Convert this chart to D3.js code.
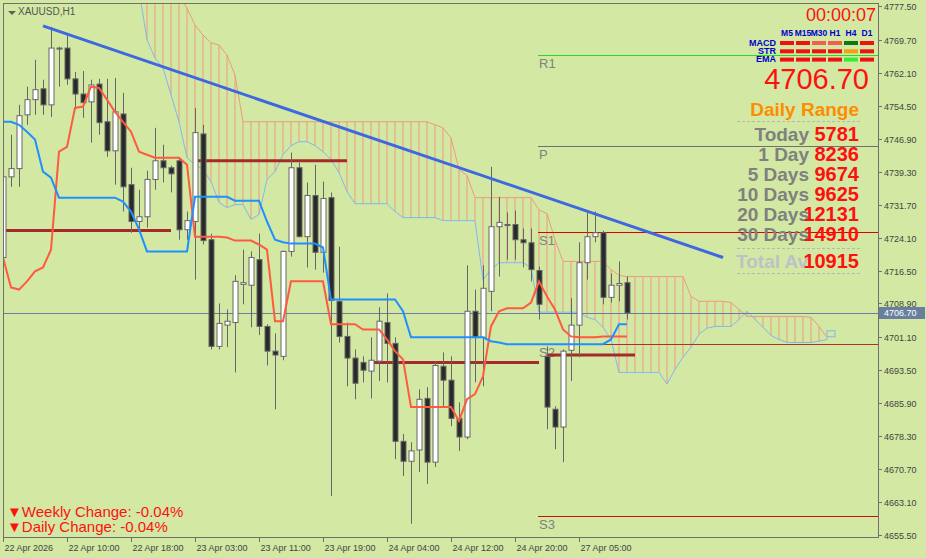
<!DOCTYPE html>
<html><head><meta charset="utf-8">
<script src="https://cdn.jsdelivr.net/npm/d3@7"></script>
<style>body{margin:0;background:#d2e8a3;}svg{display:block;}</style>
</head><body><svg id="c" width="926" height="558"></svg>
<script>
const opens  = [4719.5,4738.1,4740.0,4752.4,4755.9,4758.4,4754.7,4767.8,4767.8,4760.7,4757.2,4755.4,4759.5,4750.8,4744.1,4752.6,4736.3,4727.8,4728.9,4737.5,4741.8,4740.2,4741.8,4725.9,4727.8,4748.0,4723.6,4699.0,4703.9,4704.5,4713.3,4713.1,4719.0,4703.6,4697.9,4696.7,4720.9,4740.2,4724.3,4733.8,4720.7,4733.3,4709.4,4701.3,4696.3,4695.3,4693.3,4695.6,4704.5,4699.7,4677.1,4672.5,4675.1,4687.0,4672.3,4694.4,4691.2,4682.4,4678.1,4707.1,4701.1,4711.7,4726.6,4727.1,4727.1,4723.6,4722.9,4716.5,4696.7,4684.5,4680.4,4698.1,4703.9,4718.3,4724.3,4725.2,4710.3,4713.1,4713.7];
const highs  = [4740.9,4747.8,4754.7,4758.9,4765.1,4760.5,4772.7,4768.1,4771.3,4762.3,4762.5,4760.5,4760.7,4760.7,4760.9,4757.5,4740.2,4735.1,4739.5,4749.4,4745.5,4740.7,4742.7,4730.1,4754.0,4750.1,4725.0,4708.9,4707.5,4715.4,4721.3,4720.9,4725.0,4704.1,4702.0,4721.1,4743.7,4741.4,4736.8,4740.9,4737.0,4734.5,4722.0,4704.5,4698.3,4696.7,4701.1,4708.0,4711.2,4701.1,4678.8,4676.9,4689.1,4689.6,4695.6,4697.6,4696.7,4686.1,4717.7,4712.1,4717.7,4740.4,4733.5,4729.9,4730.3,4726.2,4726.2,4717.4,4699.0,4685.2,4698.3,4710.1,4723.0,4729.9,4730.1,4725.7,4715.8,4718.6,4715.1];
const lows   = [4717.9,4735.8,4735.8,4750.1,4752.4,4752.4,4751.9,4758.9,4759.3,4753.6,4751.7,4746.0,4747.8,4742.7,4736.3,4730.1,4725.2,4725.2,4726.4,4735.1,4736.8,4734.5,4723.6,4723.6,4714.4,4722.5,4698.3,4698.3,4698.8,4693.0,4708.7,4703.4,4701.6,4694.6,4684.5,4695.8,4719.7,4724.1,4717.2,4716.7,4716.0,4664.5,4699.9,4689.8,4686.8,4690.7,4687.0,4691.0,4690.7,4673.0,4669.1,4658.1,4670.0,4667.3,4671.2,4685.2,4680.6,4674.9,4677.6,4690.7,4689.8,4707.1,4715.1,4719.0,4719.0,4717.2,4714.0,4705.2,4679.9,4675.3,4672.3,4691.0,4696.5,4714.4,4723.0,4708.7,4709.1,4709.4,4705.2];
const closes = [4738.1,4740.0,4752.2,4755.9,4758.2,4754.7,4767.8,4767.6,4760.7,4757.2,4755.2,4759.3,4750.6,4744.1,4753.1,4735.8,4727.8,4728.9,4737.5,4741.8,4740.2,4738.8,4725.9,4728.0,4748.3,4723.4,4699.0,4704.3,4704.8,4714.0,4713.7,4719.5,4703.6,4697.9,4697.0,4720.9,4740.2,4724.3,4733.8,4720.7,4733.1,4709.6,4701.3,4696.3,4690.5,4693.5,4695.8,4704.8,4699.7,4677.1,4672.5,4674.9,4686.8,4672.3,4694.6,4691.2,4682.4,4678.1,4707.1,4701.1,4712.4,4726.6,4727.6,4727.0,4723.6,4722.9,4716.7,4708.7,4685.0,4680.4,4697.9,4703.9,4718.3,4724.3,4725.2,4710.3,4713.1,4713.5,4706.7];
const tenkan = [4719.5,4712.6,4712.1,4714.0,4716.3,4717.2,4721.3,4743.9,4745.0,4754.0,4754.3,4758.9,4758.6,4755.9,4753.1,4750.8,4748.5,4743.9,4743.2,4742.5,4742.5,4742.5,4742.5,4740.9,4724.3,4724.3,4724.3,4724.3,4724.1,4723.4,4723.4,4723.4,4722.5,4721.3,4704.8,4704.8,4714.0,4714.0,4714.0,4714.0,4714.0,4704.1,4704.1,4704.1,4704.1,4702.9,4702.9,4702.9,4700.6,4697.9,4696.0,4685.0,4685.0,4685.0,4685.0,4685.0,4685.0,4681.8,4686.8,4688.0,4692.1,4703.6,4707.1,4707.8,4707.8,4707.8,4709.1,4714.0,4710.5,4707.5,4702.9,4701.3,4701.1,4701.1,4701.1,4701.3,4701.3,4701.3,4701.3];
const kijun  = [4750.8,4750.8,4750.1,4748.5,4746.7,4739.3,4737.9,4733.3,4733.3,4733.3,4733.3,4733.3,4733.3,4733.3,4733.3,4732.4,4730.1,4726.0,4720.9,4720.9,4720.9,4720.9,4720.9,4720.9,4733.5,4733.5,4733.5,4733.5,4733.5,4732.6,4732.6,4732.6,4732.6,4727.8,4723.6,4723.0,4722.7,4722.7,4722.7,4722.7,4721.8,4709.8,4709.8,4709.8,4709.8,4709.8,4709.8,4709.8,4709.8,4709.8,4707.1,4701.1,4701.1,4701.1,4701.1,4701.1,4701.1,4701.1,4701.1,4701.1,4701.1,4700.2,4699.9,4699.5,4699.5,4699.5,4699.5,4699.5,4699.5,4699.5,4699.5,4699.5,4699.5,4699.5,4699.5,4699.5,4700.6,4704.1,4704.1];
const spanStart = 17;
const spanA  = [4788.1,4785.8,4784.6,4783.5,4782.3,4780.0,4777.0,4773.1,4770.8,4769.0,4768.5,4766.2,4761.6,4750.8,4750.8,4750.8,4750.8,4750.8,4750.8,4750.8,4750.8,4750.8,4750.8,4750.8,4750.8,4750.8,4750.8,4750.8,4750.8,4750.8,4750.8,4750.8,4750.8,4750.8,4750.8,4750.8,4750.8,4750.1,4749.4,4747.1,4739.8,4738.4,4733.3,4733.3,4733.3,4733.3,4733.3,4733.3,4733.3,4733.3,4730.5,4729.6,4723.6,4718.6,4718.6,4718.6,4718.6,4718.6,4718.6,4716.7,4715.4,4715.1,4715.1,4715.1,4715.1,4715.1,4715.1,4715.1,4715.1,4710.5,4709.4,4709.4,4709.4,4709.4,4709.1,4707.5,4705.9,4705.9,4705.9,4705.9,4705.9,4705.9,4705.9,4705.9,4705.7,4703.6,4701.1];
const spanB  = [4781.2,4769.7,4765.5,4763.2,4757.0,4750.8,4742.5,4740.9,4739.8,4737.0,4732.2,4731.0,4731.7,4731.7,4728.3,4729.4,4737.5,4739.3,4743.2,4745.3,4746.2,4746.2,4745.3,4743.9,4742.1,4739.1,4734.7,4731.9,4731.9,4731.9,4731.9,4731.9,4730.1,4728.7,4728.7,4728.7,4728.7,4728.7,4728.0,4728.0,4728.0,4728.0,4728.0,4714.4,4716.7,4718.3,4718.3,4718.3,4718.3,4717.2,4706.9,4706.9,4706.9,4706.9,4706.9,4706.9,4705.7,4705.2,4703.4,4700.6,4693.0,4693.0,4693.0,4693.0,4693.0,4693.0,4690.3,4693.7,4696.5,4698.8,4701.8,4703.2,4703.6,4703.6,4703.6,4705.2,4707.1,4705.2,4703.4,4701.5,4700.6,4699.9,4699.9,4699.9,4699.9,4700.2,4700.6];
const pivots = [{n:"R1",v:4766.2,c:"#22dd22"},{n:"P",v:4745.3,c:"#707070"},{n:"S1",v:4725.4,c:"#e00000"},{n:"S2",v:4699.5,c:"#b03030"},{n:"S3",v:4659.9,c:"#d01010"}];
const segs = [{a:0,b:20,v:4725.7},{a:24,b:42,v:4741.8},{a:46,b:66,v:4695.3},{a:68,b:78,v:4697.0}];
const trend = [{i:5,v:4772.9},{i:90,v:4719.5}];
const priceTicks = [4777.50,4769.70,4762.10,4754.50,4746.90,4739.30,4731.70,4724.10,4716.50,4708.90,4701.10,4693.50,4685.90,4678.30,4670.70,4663.10,4655.50];
const timeTicks = [{i:0,t:"22 Apr 2026"},{i:8,t:"22 Apr 10:00"},{i:16,t:"22 Apr 18:00"},{i:24,t:"23 Apr 03:00"},{i:32,t:"23 Apr 11:00"},{i:40,t:"23 Apr 19:00"},{i:48,t:"24 Apr 04:00"},{i:56,t:"24 Apr 12:00"},{i:64,t:"24 Apr 20:00"},{i:72,t:"27 Apr 05:00"}];
const tfs = ["M5","M15","M30","H1","H4","D1"];
const rowsT = ["MACD","STR","EMA"];
const sig = [["#ee1111","#ee1111","#f06050","#f06050","#117711","#ee1111"],["#ee1111","#ee1111","#ee1111","#ee1111","#f0a010","#ee1111"],["#ee1111","#ee1111","#ee1111","#ee1111","#33ee33","#ee1111"]];
const rangeLabels = ["Today","1 Day","5 Days","10 Days","20 Days","30 Days"];
const rangeVals = [5781,8236,9674,9625,12131,14910];
const totalAvg = 10915;
const current = 4706.70;

const svg = d3.select("#c");
const L=3,R=878,T=3,B=537;
const x = d3.scaleLinear().domain([0,1]).range([3,11]);
const y = d3.scaleLinear().domain([4655.5,4777.5]).range([535,6]);
svg.append("rect").attr("width",926).attr("height",558).attr("fill","#d2e8a3");
svg.append("defs").append("clipPath").attr("id","pc").append("rect").attr("x",L).attr("y",T).attr("width",R-L).attr("height",B-T);
const g = svg.append("g").attr("clip-path","url(#pc)");

const N = spanA.length;
const cl = d3.range(N).map(k=>({i:spanStart+k,a:spanA[k],b:spanB[k]}));
g.selectAll("line.h").data(cl).join("line").attr("x1",d=>x(d.i)).attr("x2",d=>x(d.i)).attr("y1",d=>y(d.a)).attr("y2",d=>y(d.b)).attr("stroke","#ee9a80").attr("stroke-width",1);
const ln = d3.line().x(d=>x(d.i)).y(d=>y(d.v));
g.append("path").attr("d",ln(cl.map(d=>({i:d.i,v:d.a})))).attr("fill","none").attr("stroke","#ee9a80").attr("stroke-width",1);
g.append("path").attr("d",ln(cl.map(d=>({i:d.i,v:d.b})))).attr("fill","none").attr("stroke","#80b8f0").attr("stroke-width",1);
g.append("rect").attr("x",x(103)).attr("y",y(4702.6)).attr("width",8).attr("height",6).attr("fill","none").attr("stroke","#80b8f0");

pivots.forEach(p=>{
  g.append("line").attr("x1",538).attr("x2",R).attr("y1",Math.round(y(p.v))+.5).attr("y2",Math.round(y(p.v))+.5).attr("stroke",p.c).attr("stroke-width",1);
  g.append("text").attr("x",539).attr("y",y(p.v)+13).text(p.n).attr("fill","#808080").attr("font-family","Liberation Sans, Arial").attr("font-size",13);
});
g.append("line").attr("x1",L).attr("x2",R).attr("y1",Math.round(y(current))+.5).attr("y2",Math.round(y(current))+.5).attr("stroke","#6a7fa0").attr("stroke-width",1);
segs.forEach(s=>g.append("line").attr("x1",x(s.a)).attr("x2",x(s.b)+8).attr("y1",y(s.v)).attr("y2",y(s.v)).attr("stroke","#a52a2a").attr("stroke-width",3));

const cs = opens.map((o,i)=>({i,o,h:highs[i],l:lows[i],c:closes[i]}));
g.selectAll("line.w").data(cs).join("line").attr("x1",d=>x(d.i)+.5).attr("x2",d=>x(d.i)+.5).attr("y1",d=>y(d.h)).attr("y2",d=>y(d.l)).attr("stroke","#666").attr("stroke-width",1);
g.selectAll("rect.b").data(cs).join("rect").attr("x",d=>x(d.i)-2).attr("width",5)
 .attr("y",d=>y(Math.max(d.o,d.c))).attr("height",d=>Math.max(1,Math.abs(y(d.o)-y(d.c))))
 .attr("fill",d=>d.c>=d.o?"#ffffff":"#2a2a2a").attr("stroke","#666").attr("stroke-width",1);

g.append("path").attr("d",ln(tenkan.map((v,i)=>({i,v})))).attr("fill","none").attr("stroke","#ff5a40").attr("stroke-width",2);
g.append("path").attr("d",ln(kijun.map((v,i)=>({i,v})))).attr("fill","none").attr("stroke","#1e90ff").attr("stroke-width",2);
g.append("path").attr("d",ln(trend)).attr("stroke","#3f68e0").attr("stroke-width",3).attr("fill","none");

svg.append("rect").attr("x",L+.5).attr("y",T+.5).attr("width",R-L).attr("height",B-T).attr("fill","none").attr("stroke","#707070");
const ax = svg.append("g").attr("font-family","Liberation Sans, Arial").attr("font-size",9).attr("fill","#444");
priceTicks.forEach(p=>{
  const yy=Math.round(y(p))+.5;
  ax.append("line").attr("x1",R).attr("x2",R+4).attr("y1",yy).attr("y2",yy).attr("stroke","#707070");
  ax.append("text").attr("x",884).attr("y",yy+3).text(p.toFixed(2));
});
ax.append("rect").attr("x",R+1).attr("y",y(current)-6).attr("width",46).attr("height",12).attr("fill","#6a7fa0");
ax.append("text").attr("x",884).attr("y",y(current)+3).text(current.toFixed(2)).attr("fill","#fff");
timeTicks.forEach(t=>{
  const xx=Math.round(x(t.i))+.5;
  ax.append("line").attr("x1",xx).attr("x2",xx).attr("y1",B).attr("y2",B+5).attr("stroke","#707070");
  ax.append("text").attr("x",xx+1).attr("y",551).text(t.t);
});

svg.append("path").attr("d","M8,11 L16,11 L12,15 Z").attr("fill","#606060");
svg.append("text").attr("x",18).attr("y",15).text("XAUUSD,H1").attr("font-family","Liberation Sans, Arial").attr("font-size",10).attr("fill","#555");
const ft = "Liberation Sans, Arial";
svg.append("text").attr("x",876).attr("y",21).attr("text-anchor","end").text("00:00:07").attr("font-family",ft).attr("font-size",18).attr("fill","#ff1010");
const cx0=787, cdx=16;
tfs.forEach((t,k)=>svg.append("text").attr("x",cx0+k*cdx).attr("y",36).attr("text-anchor","middle").text(t).attr("font-family",ft).attr("font-size",8.5).attr("font-weight","bold").attr("fill","#0000cc"));
rowsT.forEach((r,j)=>{
  svg.append("text").attr("x",776).attr("y",46+j*8).attr("text-anchor","end").text(r).attr("font-family",ft).attr("font-size",9).attr("font-weight","bold").attr("fill","#0000cc");
  sig[j].forEach((c,k)=>svg.append("rect").attr("x",cx0+k*cdx-7).attr("y",41+j*8.3).attr("width",14).attr("height",4).attr("fill",c));
});
svg.append("text").attr("x",869).attr("y",89).attr("text-anchor","end").text(current.toFixed(2)).attr("font-family",ft).attr("font-size",29).attr("fill","#ff1010");
svg.append("text").attr("x",859).attr("y",116).attr("text-anchor","end").text("Daily Range").attr("font-family",ft).attr("font-size",19).attr("font-weight","bold").attr("fill","#ff8c00");
[121.5,248.5,273.5].forEach(yy=>svg.append("line").attr("x1",737).attr("x2",860).attr("y1",yy).attr("y2",yy).attr("stroke","#b8b8b8").attr("stroke-dasharray","3,2"));
rangeLabels.forEach((l,k)=>{
  svg.append("text").attr("x",809).attr("y",141+k*20).attr("text-anchor","end").text(l).attr("font-family",ft).attr("font-size",19).attr("font-weight","bold").attr("fill","#808080");
});
svg.append("text").attr("x",736).attr("y",268).text("Total Av").attr("font-family",ft).attr("font-size",19).attr("font-weight","bold").attr("fill","#c0c0c8");
rangeVals.concat([totalAvg]).forEach((v,k)=>{
  svg.append("text").attr("x",859).attr("y",k<6?141+k*20:268).attr("text-anchor","end").text(v).attr("font-family",ft).attr("font-size",20).attr("font-weight","bold").attr("fill","#ff1010");
});
svg.append("text").attr("x",7).attr("y",517).text("▼Weekly Change: -0.04%").attr("font-family",ft).attr("font-size",15).attr("fill","#ff1010");
svg.append("text").attr("x",7).attr("y",532).text("▼Daily Change: -0.04%").attr("font-family",ft).attr("font-size",15).attr("fill","#ff1010");
</script></body></html>
